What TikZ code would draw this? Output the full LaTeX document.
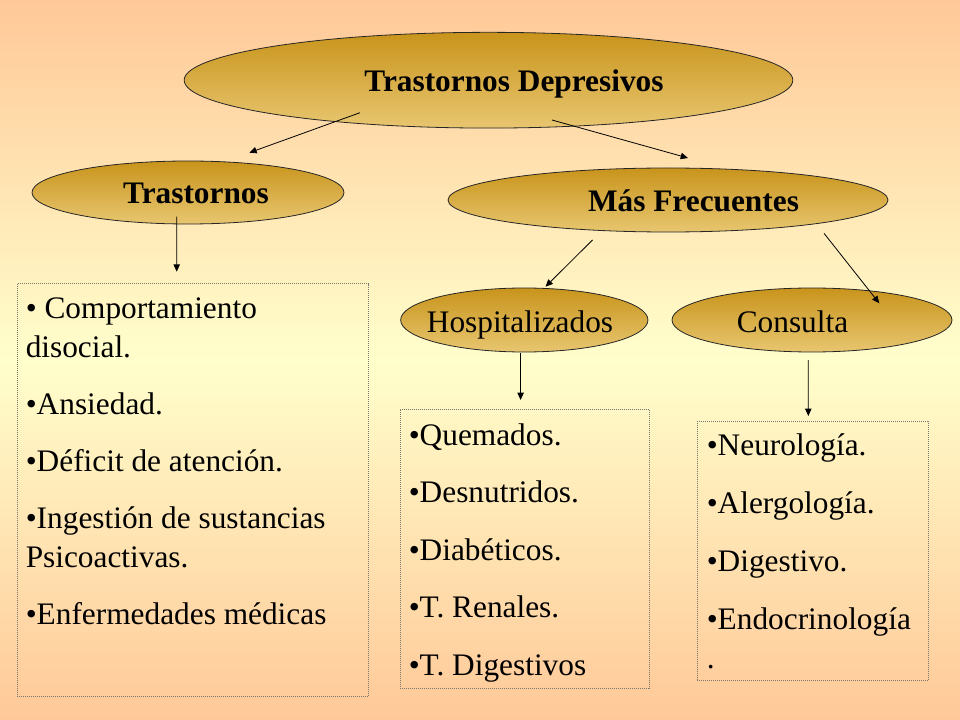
\documentclass[tikz,border=0pt]{standalone}
\usepackage{fontspec}
\setmainfont{Liberation Serif}
\usetikzlibrary{shapes.geometric,arrows.meta}
\definecolor{slidepeach}{RGB}{255,200,152}
\definecolor{slidecream}{RGB}{255,255,204}
\definecolor{goldtop}{RGB}{200,148,28}
\definecolor{goldbottom}{RGB}{232,198,112}
\definecolor{boxgray}{RGB}{120,120,110}
\newcommand{\slidefont}{\fontsize{23.5}{29.25}\selectfont}

\begin{document}
\begin{tikzpicture}[x=0.75pt, y=-0.75pt,
  oval/.style={ellipse, draw=black!85, line width=0.6pt, top color=goldtop, bottom color=goldbottom, inner sep=0pt},
  ovaltext/.style={font=\slidefont, anchor=base, inner sep=0pt},
  listbox/.style={draw=boxgray, line width=0.6pt, dash pattern=on 0.75pt off 0.75pt, inner sep=0pt, anchor=north west},
  listtext/.style={font=\slidefont, anchor=base west, inner sep=0pt},
  link/.style={-{Triangle[length=5.5pt,width=4.8pt]}, line width=0.6pt}]
\useasboundingbox (0,0) rectangle (960,720);
% slide background, light in the middle
\shade[top color=slidepeach, bottom color=slidecream] (0,0) rectangle (960,360);
\shade[top color=slidecream, bottom color=slidepeach] (0,360) rectangle (960,720);

% ovals
\node[oval, minimum width=456.5pt, minimum height=71.8pt] (dep) at (488.5,80.2) {};
\node[oval, minimum width=234pt, minimum height=47.25pt] (tras) at (188,192.5) {};
\node[oval, minimum width=330pt, minimum height=48pt] (mas) at (668,200) {};
\node[oval, minimum width=185.5pt, minimum height=48pt] (hosp) at (524.3,320) {};
\node[oval, minimum width=210pt, minimum height=48pt] (cons) at (812,320) {};

% oval titles
\node[ovaltext, font=\slidefont\bfseries] (deptxt) at ([shift={(25.5,11.5)}]dep.center) {Trastornos Depresivos};
\node[ovaltext, font=\slidefont\bfseries] (trastxt) at ([shift={(8,10.8)}]tras.center) {Trastornos};
\node[ovaltext, font=\slidefont\bfseries] (mastxt) at ([shift={(25.5,12)}]mas.center) {Más Frecuentes};
\node[ovaltext] (hosptxt) at ([shift={(-4.3,12)}]hosp.center) {Hospitalizados};
\node[ovaltext] (constxt) at ([shift={(-19.5,12)}]cons.center) {Consulta};

% dotted list boxes
\node[listbox, minimum width=263.7pt, minimum height=309.5pt] (trbox) at (16.7,283.3) {};
\node[listbox, minimum width=186.75pt, minimum height=209.25pt] (hobox) at (400,409) {};
\node[listbox, minimum width=173.7pt, minimum height=194.5pt] (cobox) at (696.7,420.7) {};

% list contents
\node[listtext] (trlist) at (25.5,318.3) {\begin{tabular}[t]{@{}l@{}}
• Comportamiento\\
disocial.\\[13.5pt]
•Ansiedad.\\[13.5pt]
•Déficit de atención.\\[13.5pt]
•Ingestión de sustancias\\
Psicoactivas.\\[13.5pt]
•Enfermedades médicas
\end{tabular}};
\node[listtext] (holist) at (408.5,445) {\begin{tabular}[t]{@{}l@{}}
•Quemados.\\[13.9pt]
•Desnutridos.\\[13.9pt]
•Diabéticos.\\[13.9pt]
•T. Renales.\\[13.9pt]
•T. Digestivos
\end{tabular}};
\node[listtext] (colist) at (706.5,455) {\begin{tabular}[t]{@{}l@{}}
•Neurología.\\[14.25pt]
•Alergología.\\[14.25pt]
•Digestivo.\\[14.25pt]
•Endocrinología\\
.
\end{tabular}};

% arrows
\draw[link] ([shift={(-128.5,32.5)}]dep.center) -- ([shift={(61.3,-39.8)}]tras.center);
\draw[link] ([shift={(63.5,39.8)}]dep.center) -- ([shift={(20,-42)}]mas.center);
\draw[link] ([shift={(-11.3,24.2)}]tras.center) -- ([shift={(160,-11.6)}]trbox.north west);
\draw[link] ([shift={(-75.5,40)}]mas.center) -- ([shift={(21.2,-33.3)}]hosp.center);
\draw[link] ([shift={(156,33.3)}]mas.center) -- ([shift={(67.3,-16.7)}]cons.center);
\draw[link] ([shift={(-3.7,33)}]hosp.center) -- ([shift={(120.6,-9)}]hobox.north west);
\draw[link] ([shift={(-3.7,40)}]cons.center) -- ([shift={(111.6,-4.7)}]cobox.north west);
\end{tikzpicture}
\end{document}
